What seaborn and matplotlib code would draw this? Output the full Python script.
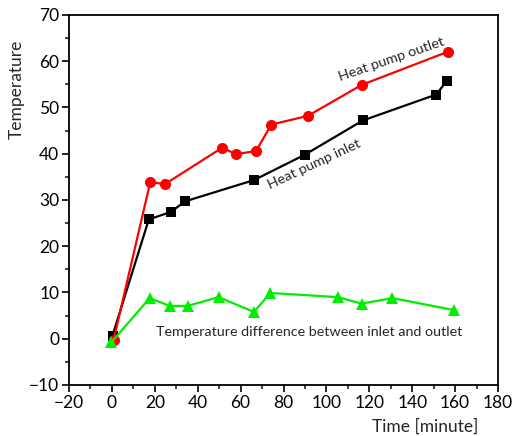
import matplotlib
matplotlib.use("Agg")
import matplotlib.pyplot as plt
import seaborn as sns
from matplotlib.ticker import MultipleLocator

sns.set_style("ticks")
plt.rcParams['font.family'] = ['Lato', 'DejaVu Sans']

outlet_t = [0.8, 17.9, 24.6, 51.4, 57.9, 67.2, 74.3, 91.4, 116.5, 156.9]
outlet_v = [-0.2, 33.9, 33.4, 41.3, 39.9, 40.6, 46.3, 48.2, 54.9, 62.1]

inlet_t = [0.3, 17.2, 27.4, 34.1, 66.2, 90.0, 117.0, 151.2, 156.2]
inlet_v = [0.7, 25.8, 27.4, 29.7, 34.3, 39.8, 47.2, 52.8, 55.8]

diff_t = [-0.3, 17.6, 26.9, 35.3, 49.7, 66.2, 73.9, 105.2, 116.4, 130.8, 159.4]
diff_v = [-0.8, 8.8, 7.1, 7.1, 9.0, 5.8, 9.9, 9.0, 7.6, 8.8, 6.2]

x_ticks = list(range(-20, 181, 20))
y_ticks = list(range(-10, 71, 10))

fig = plt.figure(figsize=(5.2, 4.36), dpi=100)
ax = fig.add_axes([0.1327, 0.117, 0.825, 0.8486])

sns.lineplot(x=inlet_t, y=inlet_v, ax=ax, sort=False, color='black', marker='s',
             markersize=7, markeredgewidth=0, linewidth=1.6)
sns.lineplot(x=outlet_t, y=outlet_v, ax=ax, sort=False, color='#ff0000', marker='o',
             markersize=8, markeredgewidth=0, linewidth=1.6)
sns.lineplot(x=diff_t, y=diff_v, ax=ax, sort=False, color='#00ee00', marker='^',
             markersize=9, markeredgewidth=0, linewidth=1.6)

ax.set_xlim(-20, 180)
ax.set_ylim(-10, 70)
ax.xaxis.set_minor_locator(MultipleLocator(10))
ax.yaxis.set_minor_locator(MultipleLocator(5))
ax.tick_params(axis='both', which='major', direction='out', length=5, width=1.2,
               labelsize=12.5, colors='black', pad=2)
ax.tick_params(axis='both', which='minor', direction='out', length=3, width=1.2)
for s in ax.spines.values():
    s.set_linewidth(1.3)
    s.set_color('black')
ax.set_xticks(x_ticks)
ax.set_xticklabels([('\u2212' + str(-v)) if v < 0 else str(v) for v in x_ticks])
ax.set_yticks(y_ticks)
ax.set_yticklabels([('\u2212' + str(-v)) if v < 0 else str(v) for v in y_ticks])

ax.set_ylabel('Temperature', fontsize=12.5)
ax.yaxis.set_label_coords(-0.103, 0.80)
ax.set_xlabel('')
fig.text(0.817, 0.021, 'Time [minute]', fontsize=12.5, ha='center', va='center')

ax.text(130.9, 59.5, 'Heat pump outlet', rotation=19, fontsize=10.3, ha='center',
        va='baseline', rotation_mode='anchor')
ax.text(95.1, 37.0, 'Heat pump inlet', rotation=25, fontsize=10.3, ha='center',
        va='baseline', rotation_mode='anchor')
ax.text(92, 0.65, 'Temperature difference between inlet and outlet', fontsize=10.3,
        ha='center', va='baseline')

fig.savefig('out.png', dpi=100)
